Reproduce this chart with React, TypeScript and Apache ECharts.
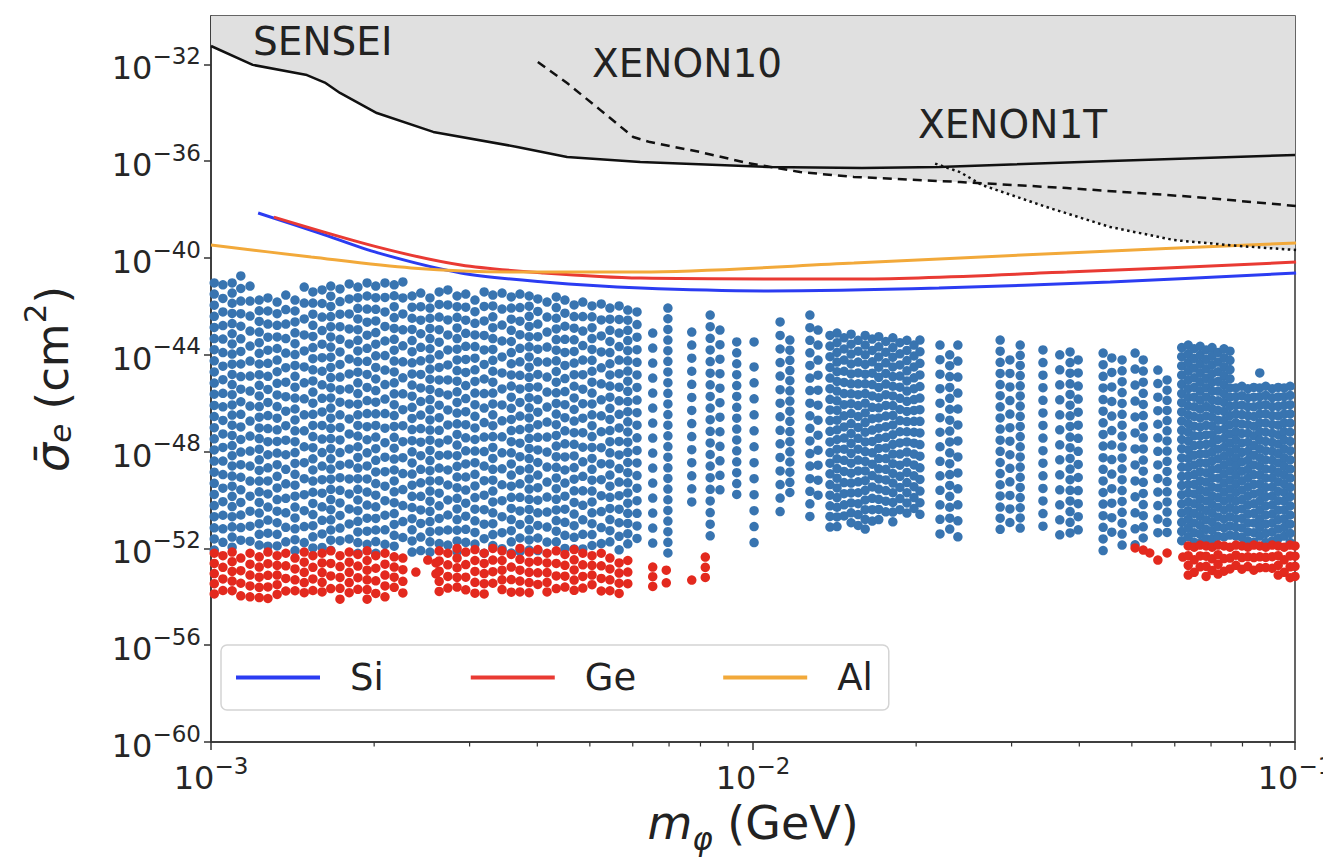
import React, { useEffect, useRef } from "react";
import * as echarts from "echarts";

const FONT = "'DejaVu Sans', 'Noto Sans', sans-serif";

// Exclusion curves (log10 m [GeV], log10 sigma [cm^2])
const senseiLogM = [-3.0, -2.923, -2.823, -2.79, -2.762, -2.694, -2.59, -2.435, -2.343, -2.208, -1.972, -1.799, -1.657, -1.341, -1.0];
const senseiLogS = [-31.24, -32.02, -32.44, -32.75, -33.18, -34.01, -34.79, -35.41, -35.83, -36.03, -36.24, -36.28, -36.24, -35.99, -35.74];

const xenon10LogM = [-2.397, -2.343, -2.282, -2.221, -2.19, -2.098, -2.011, -1.913, -1.814, -1.618, -1.421, -1.183, -0.998];
const xenon10LogS = [-31.9, -32.77, -33.88, -35.0, -35.21, -35.62, -36.07, -36.45, -36.65, -36.86, -37.11, -37.48, -37.85];

const xenon1tLogM = [-1.664, -1.618, -1.578, -1.459, -1.341, -1.223, -1.105, -0.998];
const xenon1tLogS = [-36.1, -36.45, -36.98, -37.89, -38.72, -39.26, -39.5, -39.67];

// Projected reach lines
const siLogM = [-2.913, -2.8, -2.692, -2.539, -2.386, -2.207, -1.972, -1.657, -1.341, -0.998];
const siLogS = [-38.14, -38.97, -39.79, -40.62, -40.99, -41.24, -41.36, -41.24, -40.99, -40.62];

const geLogM = [-2.884, -2.692, -2.539, -2.386, -2.207, -1.814, -1.421, -0.998];
const geLogS = [-38.31, -39.55, -40.29, -40.62, -40.83, -40.87, -40.58, -40.17];

const alLogM = [-3.0, -2.815, -2.631, -2.446, -2.323, -2.207, -1.814, -1.421, -0.998];
const alLogS = [-39.46, -39.96, -40.41, -40.58, -40.58, -40.58, -40.21, -39.79, -39.38];

// Scatter columns: [log10 m, top log10 sigma, bottom log10 sigma, (optional) point spacing]
const blueColumns = [
  [-2.994, -41.03, -52.2], [-2.978, -41.11, -52.1], [-2.961, -41.03, -52.2], [-2.945, -40.74, -52.15],
  [-2.928, -41.16, -52.2], [-2.911, -41.74, -52.1], [-2.895, -41.65, -52.2], [-2.878, -41.82, -52.2],
  [-2.862, -41.53, -52.1], [-2.845, -41.74, -52.2], [-2.828, -41.2, -52.2], [-2.812, -41.4, -52.1],
  [-2.795, -41.32, -52.2], [-2.779, -41.16, -52.2], [-2.762, -41.28, -52.1], [-2.745, -41.07, -52.2],
  [-2.729, -41.2, -52.2], [-2.712, -41.03, -52.1], [-2.696, -41.16, -52.2], [-2.679, -41.03, -52.2],
  [-2.662, -41.11, -52.1], [-2.646, -40.99, -52.2], [-2.629, -41.57, -52.3], [-2.613, -41.45, -52.3],
  [-2.596, -41.65, -52.25], [-2.579, -41.4, -52.2], [-2.563, -41.32, -52.1], [-2.546, -41.57, -52.2],
  [-2.53, -41.49, -52.2], [-2.513, -41.74, -52.1], [-2.496, -41.4, -52.2], [-2.48, -41.53, -52.2],
  [-2.463, -41.45, -52.1], [-2.446, -41.61, -52.2], [-2.43, -41.49, -52.2], [-2.413, -41.57, -52.1],
  [-2.397, -41.69, -52.2], [-2.38, -41.82, -52.2], [-2.363, -41.61, -52.1], [-2.347, -41.74, -52.2],
  [-2.33, -41.94, -52.2], [-2.314, -41.82, -52.1], [-2.297, -41.98, -52.2], [-2.28, -41.9, -52.2],
  [-2.264, -42.07, -52.1], [-2.247, -41.98, -52.2], [-2.231, -42.15, -52.2], [-2.214, -42.23, -52.1],
  [-2.185, -43.1, -52.36], [-2.157, -42.07, -52.27], [-2.113, -43.06, -50.41], [-2.079, -42.36, -51.78],
  [-2.061, -42.98, -50.0], [-2.03, -43.47, -50.12], [-1.998, -44.5, -52.07], [-1.998, -43.47, -43.47],
  [-1.95, -42.64, -50.5], [-1.932, -43.39, -49.79], [-1.895, -42.36, -50.83], [-1.88, -42.98, -50.0],
  [-1.858, -43.2, -51.2, 0.44], [-1.845, -43.1, -51.4, 0.4], [-1.832, -43.3, -51.0, 0.46], [-1.819, -43.15, -51.3, 0.41],
  [-1.806, -43.4, -51.1, 0.45], [-1.793, -43.2, -51.35, 0.4], [-1.78, -43.35, -50.9, 0.47], [-1.768, -43.25, -51.2, 0.42],
  [-1.755, -43.45, -50.8, 0.44], [-1.742, -43.3, -51.0, 0.4], [-1.729, -43.5, -50.7, 0.46], [-1.716, -43.4, -50.9, 0.42],
  [-1.703, -43.6, -50.6, 0.45], [-1.692, -43.39, -50.83], [-1.655, -43.6, -51.65], [-1.637, -44.0, -51.24],
  [-1.622, -43.6, -51.86], [-1.544, -43.39, -51.57], [-1.526, -44.21, -51.45], [-1.507, -43.6, -51.24],
  [-1.465, -43.8, -51.24], [-1.434, -44.0, -51.45], [-1.415, -43.88, -51.78], [-1.4, -44.21, -51.65],
  [-1.354, -43.93, -52.19], [-1.338, -44.13, -51.65], [-1.319, -44.21, -51.86], [-1.295, -43.93, -51.86],
  [-1.28, -44.21, -51.65], [-1.253, -44.63, -51.78], [-1.236, -45.04, -51.45],
  [-1.209, -43.7, -51.8, 0.38], [-1.197, -43.6, -51.8, 0.36], [-1.186, -43.75, -51.8, 0.4], [-1.175, -43.65, -51.8, 0.37],
  [-1.164, -43.8, -51.8, 0.39], [-1.153, -43.7, -51.8, 0.36], [-1.142, -43.9, -51.8, 0.4], [-1.131, -43.75, -51.8, 0.37],
  [-1.12, -43.85, -51.8, 0.38], [-1.109, -45.37, -51.8, 0.36], [-1.098, -45.3, -51.8, 0.39], [-1.087, -45.4, -51.8, 0.37],
  [-1.076, -45.35, -51.8, 0.4], [-1.065, -45.37, -51.8, 0.36], [-1.065, -44.75, -44.75], [-1.054, -45.3, -51.8, 0.38],
  [-1.042, -45.4, -51.8, 0.37], [-1.031, -45.35, -51.8, 0.39], [-1.02, -45.37, -51.8, 0.36], [-1.009, -45.3, -51.8, 0.38],
];

const redColumns = [
  [-2.994, -52.2, -54.1], [-2.978, -52.3, -54.0], [-2.961, -52.15, -54.1], [-2.945, -52.4, -54.13],
  [-2.928, -52.2, -54.0], [-2.911, -52.35, -54.1], [-2.895, -52.15, -54.13], [-2.878, -52.3, -54.0],
  [-2.862, -52.2, -54.1], [-2.845, -52.4, -54.13], [-2.828, -52.15, -54.0], [-2.812, -52.3, -54.1],
  [-2.795, -52.2, -54.13], [-2.779, -52.1, -54.0], [-2.762, -52.3, -54.1], [-2.745, -52.15, -54.13],
  [-2.729, -52.25, -54.0], [-2.712, -52.1, -54.1], [-2.696, -52.3, -54.0], [-2.679, -52.2, -54.1],
  [-2.662, -52.35, -54.0], [-2.646, -52.4, -53.9],
  [-2.622, -52.98, -52.98], [-2.6, -52.48, -52.48], [-2.585, -52.6, -53.2],
  [-2.579, -52.1, -53.9], [-2.563, -52.2, -54.0], [-2.546, -52.0, -53.9], [-2.53, -52.15, -54.0],
  [-2.513, -52.05, -53.85], [-2.496, -52.2, -54.0], [-2.48, -52.0, -53.9], [-2.463, -52.1, -54.0],
  [-2.446, -52.25, -53.85], [-2.43, -52.0, -53.95], [-2.413, -52.15, -54.0], [-2.397, -52.05, -53.9],
  [-2.38, -52.2, -54.0], [-2.363, -52.1, -53.85], [-2.347, -52.25, -53.95], [-2.33, -52.05, -54.0],
  [-2.314, -52.2, -53.9], [-2.297, -52.3, -53.85], [-2.28, -52.2, -54.0], [-2.264, -52.4, -53.9],
  [-2.247, -52.6, -53.95], [-2.231, -52.5, -53.8],
  [-2.185, -52.77, -53.84], [-2.16, -52.9, -53.72], [-2.113, -53.31, -53.31], [-2.088, -52.36, -53.22],
  [-1.295, -51.98, -52.27], [-1.28, -52.07, -52.07], [-1.268, -52.19, -52.19], [-1.253, -52.48, -52.48],
  [-1.236, -52.19, -52.19], [-1.207, -52.36, -52.36],
  [-1.197, -51.9, -53.1], [-1.186, -51.95, -53.2], [-1.175, -51.86, -53.0], [-1.164, -51.9, -53.2],
  [-1.153, -51.95, -53.1], [-1.142, -51.86, -53.2], [-1.131, -51.9, -53.0], [-1.12, -51.95, -53.2],
  [-1.109, -51.86, -53.1], [-1.098, -51.9, -53.2], [-1.087, -51.95, -53.0], [-1.076, -51.86, -53.2],
  [-1.065, -51.9, -53.1], [-1.054, -51.95, -53.2], [-1.042, -51.86, -53.0], [-1.031, -51.9, -53.2],
  [-1.02, -51.95, -53.3], [-1.009, -51.86, -53.3], [-1.0, -51.9, -53.2],
];

// default spacing (in decades) between successive points of a column, cycled column by column
const blueSteps = [0.46, 0.56, 0.42, 0.52, 0.62, 0.44, 0.54, 0.48, 0.6, 0.45, 0.66];
const redSteps = [0.42, 0.48, 0.4, 0.52, 0.45];

const xMinorTicks = [0.002, 0.003, 0.004, 0.005, 0.006, 0.007, 0.008, 0.009, 0.02, 0.03, 0.04, 0.05, 0.06, 0.07, 0.08, 0.09];
const Y_MIN = 1e-60;
const Y_MAX = 1e-30;

const toPts = (lm: number[], ls: number[]) => lm.map((m, i) => [10 ** m, 10 ** ls[i]]);

function expandColumns(cols: number[][], steps: number[]) {
  const pts: number[][] = [];
  cols.forEach((col, i) => {
    const [lm, top, bottom] = col;
    const step = col[3] ?? steps[i % steps.length];
    for (let y = top; y >= bottom - 1e-6; y -= step) pts.push([10 ** lm, 10 ** y]);
  });
  return pts;
}

const expLabel = (v: number) => {
  const e = Math.round(Math.log10(v));
  return `{b|10}{s|${e < 0 ? "\u2212" : ""}${Math.abs(e)}}`;
};
const yExpLabel = (v: number) => {
  const l = Math.log10(v);
  const e = Math.round(l);
  if (Math.abs(l - e) > 1e-6 || e % 4 !== 0) return "";
  return expLabel(v);
};

const LABEL_COLOR = "#262626";
const tickRich = {
  b: { fontSize: 32, fontFamily: FONT, color: LABEL_COLOR, lineHeight: 40, verticalAlign: "bottom" },
  s: { fontSize: 23, fontFamily: FONT, color: LABEL_COLOR, lineHeight: 23, verticalAlign: "top" },
};
const tickRichZr = {
  b: { fontSize: 32, fontFamily: FONT, fill: LABEL_COLOR, lineHeight: 40, verticalAlign: "bottom" },
  s: { fontSize: 23, fontFamily: FONT, fill: LABEL_COLOR, lineHeight: 23, verticalAlign: "top" },
};

export default function App() {
  const ref = useRef<HTMLDivElement>(null);
  useEffect(() => {
    if (!ref.current) return;
    const chart = echarts.init(ref.current, null, { renderer: "svg" });
    const GRAY = "#e0e0e0";
    const sensei = toPts(senseiLogM, senseiLogS);
    const x10 = toPts(xenon10LogM, xenon10LogS);
    const x1t = toPts(xenon1tLogM, xenon1tLogS);
    const curves = [sensei, x10, x1t];

    chart.setOption({
      animation: false,
      backgroundColor: "#ffffff",
      grid: {
        left: 211, top: 16, width: 1084, height: 726,
        show: true, borderColor: "#333", borderWidth: 1.5,
        outerBoundsMode: "none", containLabel: false,
      },
      legend: {
        data: ["Si", "Ge", "Al"],
        left: 221, top: 645,
        itemWidth: 84, itemHeight: 4, itemGap: 87, icon: "rect",
        padding: [14, 16, 14, 15],
        borderColor: "#d4d4d4", borderWidth: 1.5, borderRadius: 6,
        backgroundColor: "rgba(255,255,255,0.9)",
        textStyle: { fontSize: 37, fontFamily: FONT, color: "#222", padding: [0, 0, 0, 25] },
      },
      xAxis: {
        type: "log", logBase: 10, min: 1e-3, max: 1e-1, interval: 1,
        axisLine: { show: true, onZero: false, lineStyle: { color: "#333", width: 1.5 } },
        axisTick: { show: true, length: 8, lineStyle: { color: "#333", width: 1.5 } },
        axisLabel: { margin: 12, formatter: expLabel, rich: tickRich, showMinLabel: true, showMaxLabel: true },
        splitLine: { show: false },
        name: "{i|m}{sub|\u03c6}{n| (GeV)}",
        nameLocation: "middle", nameGap: 58, nameMoveOverlap: false,
        nameTextStyle: {
          rich: {
            i: { fontSize: 46, fontFamily: FONT, fontStyle: "italic", color: "#222", lineHeight: 54, verticalAlign: "top" },
            sub: { fontSize: 31, fontFamily: FONT, fontStyle: "italic", color: "#222", lineHeight: 44, verticalAlign: "bottom" },
            n: { fontSize: 46, fontFamily: FONT, color: "#222", lineHeight: 54, verticalAlign: "top" },
          },
        },
      },
      yAxis: {
        type: "log", logBase: 10, min: Y_MIN, max: Y_MAX, interval: 4,
        axisLine: { show: true, onZero: false, lineStyle: { color: "#333", width: 1.5 } },
        axisTick: { show: true, length: 7, lineStyle: { color: "#333", width: 1.5 } },
        axisLabel: { margin: 10, formatter: yExpLabel, rich: tickRich, showMinLabel: true, hideOverlap: false },
        splitLine: { show: false },
        name: "{s|\u03c3\u0304}{sub|e}{n| (cm}{sup|2}{n|)}",
        nameLocation: "middle", nameGap: 136, nameRotate: 90, nameMoveOverlap: false,
        nameTextStyle: {
          rich: {
            s: { fontSize: 46, fontFamily: FONT, fontStyle: "italic", color: "#222", lineHeight: 56, verticalAlign: "bottom" },
            sub: { fontSize: 31, fontFamily: FONT, fontStyle: "italic", color: "#222", lineHeight: 42, verticalAlign: "bottom" },
            n: { fontSize: 45, fontFamily: FONT, color: "#222", lineHeight: 56, verticalAlign: "bottom" },
            sup: { fontSize: 31, fontFamily: FONT, color: "#222", lineHeight: 31, verticalAlign: "top" },
          },
        },
      },
      graphic: [
        { type: "text", x: 253, y: 41, z: 50, style: { text: "SENSEI", fontSize: 39, fontFamily: FONT, fill: "#222", verticalAlign: "middle" } },
        { type: "text", x: 592, y: 63, z: 50, style: { text: "XENON10", fontSize: 39, fontFamily: FONT, fill: "#222", verticalAlign: "middle" } },
        { type: "text", x: 918, y: 124, z: 50, style: { text: "XENON1T", fontSize: 39, fontFamily: FONT, fill: "#222", verticalAlign: "middle" } },
      ],
      series: [
        {
          name: "excluded region", type: "custom", data: [[1e-3, Y_MAX]], clip: true, z: 1, silent: true,
          renderItem: (params: any, api: any) => ({
            type: "group",
            children: curves.map((curve) => {
              const pts = curve.map((p) => api.coord(p));
              pts.push(api.coord([curve[curve.length - 1][0], Y_MAX]));
              pts.push(api.coord([curve[0][0], Y_MAX]));
              return { type: "polygon", shape: { points: pts }, style: { fill: GRAY, stroke: null } };
            }),
          }),
        },
        {
          name: "points", type: "scatter", data: expandColumns(blueColumns, blueSteps),
          symbol: "circle", symbolSize: 9.5, itemStyle: { color: "#3874b0", opacity: 1 }, z: 3, silent: true,
        },
        {
          name: "excluded points", type: "scatter", data: expandColumns(redColumns, redSteps),
          symbol: "circle", symbolSize: 9.5, itemStyle: { color: "#e3291e", opacity: 1 }, z: 4, silent: true,
        },
        { name: "Si", type: "line", data: toPts(siLogM, siLogS), symbol: "none", smooth: 0.3, color: "#2b3cf2", lineStyle: { color: "#2b3cf2", width: 3 }, z: 6 },
        { name: "Ge", type: "line", data: toPts(geLogM, geLogS), symbol: "none", smooth: 0.3, color: "#e93a33", lineStyle: { color: "#e93a33", width: 3 }, z: 6 },
        { name: "Al", type: "line", data: toPts(alLogM, alLogS), symbol: "none", smooth: 0.3, color: "#f2a93a", lineStyle: { color: "#f2a93a", width: 3 }, z: 6 },
        { name: "SENSEI", type: "line", data: sensei, symbol: "none", lineStyle: { color: "#111", width: 2.5 }, z: 7 },
        { name: "XENON10", type: "line", data: x10, symbol: "none", lineStyle: { color: "#111", width: 2.5, type: [9, 6] }, z: 7 },
        { name: "XENON1T", type: "line", data: x1t, symbol: "none", lineStyle: { color: "#111", width: 2.5, type: [2.5, 3.5] }, z: 7 },
        {
          name: "minorTicks", type: "custom", data: xMinorTicks.map((v) => [v, Y_MIN]), clip: false, z: 8, silent: true,
          renderItem: (params: any, api: any) => {
            const p = api.coord([api.value(0), api.value(1)]);
            return { type: "line", shape: { x1: p[0], y1: p[1], x2: p[0], y2: p[1] + 4.5 }, style: { stroke: "#333", lineWidth: 1.2 } };
          },
        },
        {
          // label of the lowest y tick (the axis hides it where it meets the x labels)
          name: "yMinLabel", type: "custom", data: [[1e-3, Y_MIN]], clip: false, z: 8, silent: true,
          renderItem: (params: any, api: any) => {
            const p = api.coord([api.value(0), api.value(1)]);
            return {
              type: "group",
              children: [
                { type: "line", shape: { x1: p[0] - 7, y1: p[1], x2: p[0], y2: p[1] }, style: { stroke: "#333", lineWidth: 1.5 } },
                {
                  type: "text", x: p[0] - 10, y: p[1],
                  style: { text: expLabel(Y_MIN), rich: tickRichZr, fill: LABEL_COLOR, align: "right", verticalAlign: "middle" },
                },
              ],
            };
          },
        },
      ],
    });
    return () => chart.dispose();
  }, []);
  return <div ref={ref} style={{ position: "fixed", left: 0, top: 0, width: 1323, height: 866 }} />;
}
